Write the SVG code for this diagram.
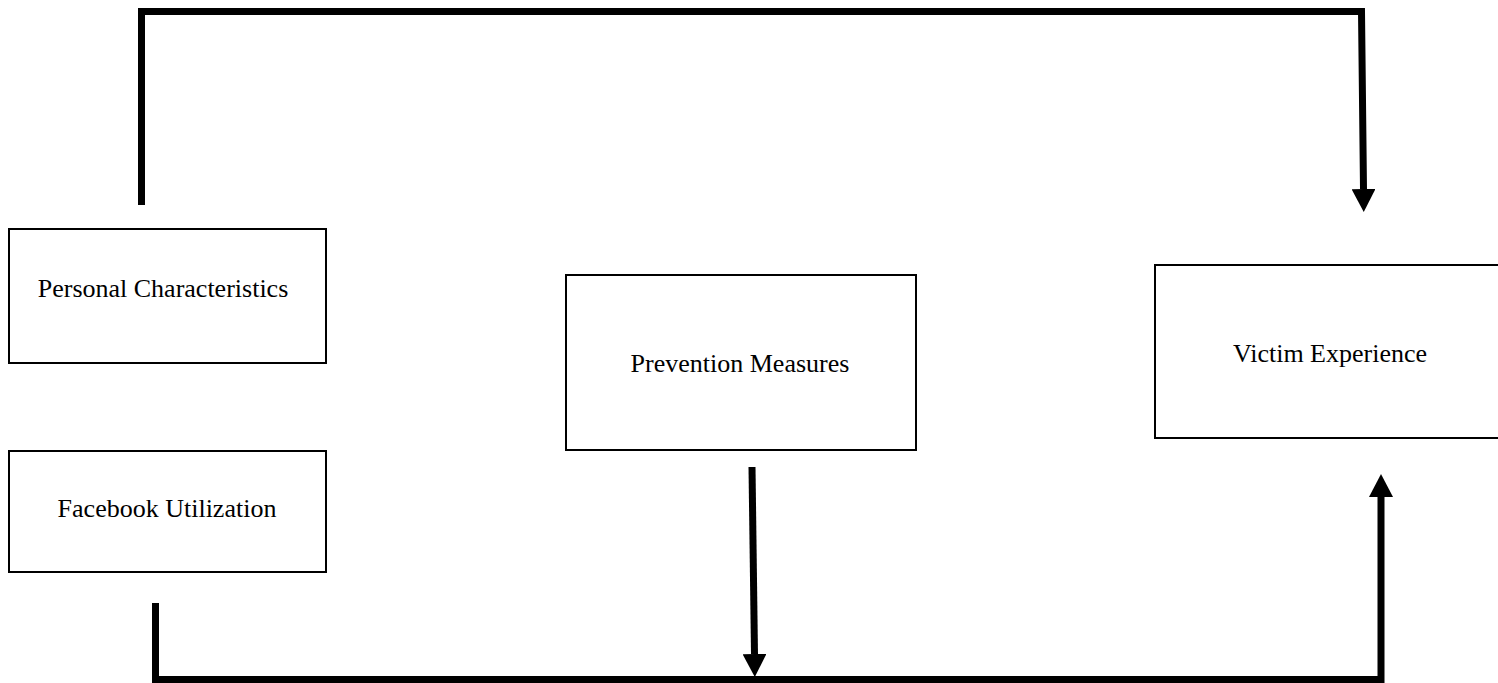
<svg xmlns="http://www.w3.org/2000/svg" width="1498" height="683" viewBox="0 0 1498 683">
<style>
.box{fill:#fff;stroke:#000;stroke-width:2}
.lbl{font-family:"Liberation Serif","Times New Roman",serif;font-size:26px;fill:#000;text-anchor:middle}
.conn{fill:none;stroke:#000;stroke-width:7;stroke-linejoin:miter}
</style>
<defs>
<marker id="ah" viewBox="0 0 23 24" markerWidth="23" markerHeight="24" refX="0" refY="12" orient="auto" markerUnits="userSpaceOnUse">
<path d="M0,0 L23,12 L0,24 z" fill="#000"/>
</marker>
</defs>
<rect width="1498" height="683" fill="#fff"/>
<g id="connectors">
<path class="conn" d="M141.5,205 L141.5,11.5 L1361.5,11.5 L1363.5,189" marker-end="url(#ah)"/>
<path class="conn" d="M752,467 L754.5,654" marker-end="url(#ah)"/>
<path class="conn" d="M155.5,603 L155.5,679.5 L1381,679.5 L1381,497" marker-end="url(#ah)"/>
</g>
<g id="personal">
<rect class="box" x="9" y="229" width="317" height="134"/>
<text class="lbl" x="163" y="297">Personal Characteristics</text>
</g>
<g id="facebook">
<rect class="box" x="9" y="451" width="317" height="121"/>
<text class="lbl" x="167" y="517">Facebook Utilization</text>
</g>
<g id="prevention">
<rect class="box" x="566" y="275" width="350" height="175"/>
<text class="lbl" x="740" y="372">Prevention Measures</text>
</g>
<g id="victim">
<rect class="box" x="1155" y="265" width="360" height="173"/>
<text class="lbl" x="1330" y="362">Victim Experience</text>
</g>
</svg>
